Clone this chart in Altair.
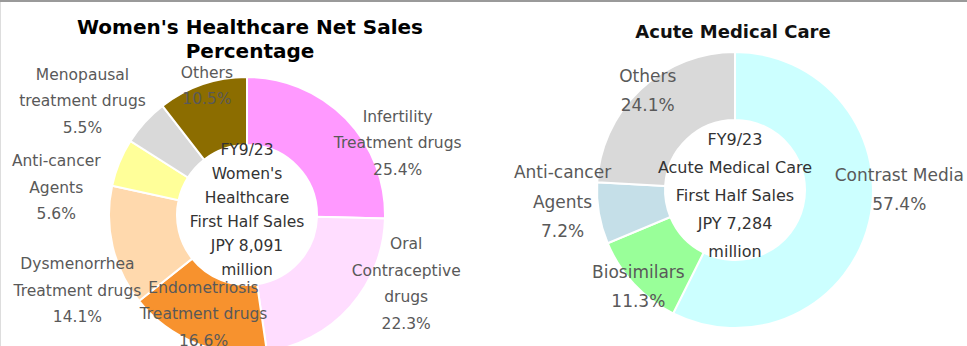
import altair as alt
import pandas as pd

# ---------------- data ----------------
wh_labels = ["Infertility\nTreatment drugs", "Oral\nContraceptive\ndrugs",
             "Endometriosis\nTreatment drugs", "Dysmenorrhea\nTreatment drugs",
             "Anti-cancer\nAgents", "Menopausal\ntreatment drugs", "Others"]
wh_values = [25.4, 22.3, 16.6, 14.1, 5.6, 5.5, 10.5]
wh_center = ["FY9/23", "Women's", "Healthcare", "First Half Sales", "JPY 8,091", "million"]
wh_title = ["Women's Healthcare Net Sales", "Percentage"]

amc_labels = ["Contrast Media", "Biosimilars", "Anti-cancer\nAgents", "Others"]
amc_values = [57.4, 11.3, 7.2, 24.1]
amc_center = ["FY9/23", "Acute Medical Care", "First Half Sales", "JPY 7,284", "million"]
amc_title = ["Acute Medical Care"]

# ---------------- styles ----------------
wh_colors = ["#FF99FF", "#FFDDFF", "#F7922E", "#FFD9AD", "#FFFF99", "#D9D9D9", "#8C6D00"]
amc_colors = ["#CCFFFF", "#99FF99", "#C5DFE8", "#D9D9D9"]

W, H = 967, 346
FONT = "DejaVu Sans"
LABEL_COLOR = "#595959"


def make_df(prefix, labels, values):
    return pd.DataFrame({
        "key": [f"{prefix}{i}" for i in range(len(labels))],
        "order": list(range(len(labels))),
        "value": values,
        "text": [f"{l}\n{v:.1f}%" for l, v in zip(labels, values)],
    })


wh_df = make_df("W", wh_labels, wh_values)
amc_df = make_df("A", amc_labels, amc_values)

color_scale = alt.Scale(domain=list(wh_df["key"]) + list(amc_df["key"]),
                        range=wh_colors + amc_colors)


def donut(df, cx, cy, r_in, r_out):
    return alt.Chart(df).mark_arc(innerRadius=r_in, outerRadius=r_out,
                                  stroke="white", strokeWidth=2).encode(
        theta=alt.Theta("value:Q", stack=True),
        order=alt.Order("order:Q"),
        color=alt.Color("key:N", scale=color_scale, legend=None),
        x=alt.value(cx), y=alt.value(cy),
    )


def labels(df, cx, cy, placement, size, lh):
    layers = []
    for i, (r, dx, dy) in enumerate(placement):
        n = df["text"][i].count("\n") + 1
        layers.append(
            alt.Chart(df).transform_calculate(
                t=f"datum.order == {i} ? datum.text : ''"
            ).mark_text(radius=r, dx=dx, dy=dy - (n - 1) * lh / 2, font=FONT, fontSize=size,
                        color=LABEL_COLOR, lineBreak="\n", lineHeight=lh,
                        align="center", baseline="middle").encode(
                theta=alt.Theta("value:Q", stack=True),
                order=alt.Order("order:Q"),
                text="t:N",
                x=alt.value(cx), y=alt.value(cy),
            )
        )
    return layers


def block_text(lines, x, y_first, size, lh, color, weight="normal"):
    return alt.Chart(pd.DataFrame({"t": ["\n".join(lines)]})).mark_text(
        font=FONT, fontSize=size, fontWeight=weight, color=color,
        lineBreak="\n", lineHeight=lh, align="center", baseline="middle"
    ).encode(text="t:N", x=alt.value(x), y=alt.value(y_first))


# centers / layout
LCX, LCY = 247, 215
RCX, RCY = 735, 190

wh_place = [(170, 29, 47), (170, 32, -44), (110, -3, -3), (170, -4, 37),
            (190, -15, 45), (190, -24, 14), (133, 3, -3)]
amc_place = [(175, -6, -40), (150, 13, -5), (175, 0, -17), (130, 2, -4)]

top_line = alt.Chart(pd.DataFrame({"a": [0]})).mark_rule(
    color="#9A9A9A", strokeWidth=2).encode(x=alt.value(0), x2=alt.value(W), y=alt.value(1))

layers = [
    top_line,
    donut(wh_df, LCX, LCY, 70, 138),
    donut(amc_df, RCX, RCY, 70, 138),
    block_text(wh_center, LCX, 150, 15.5, 24, "#333333"),
    block_text(amc_center, RCX, 140, 16, 28, "#333333"),
    block_text(wh_title, 250, 28, 20, 24, "#000000", "bold"),
    block_text(amc_title, 733, 33, 18, 22, "#111111", "bold"),
] + labels(wh_df, LCX, LCY, wh_place, 15.5, 26.5) + labels(amc_df, RCX, RCY, amc_place, 17, 29.5)

chart = alt.layer(*layers).properties(
    width=W, height=H, autosize=alt.AutoSizeParams(type="none"), padding=0
).configure_view(stroke=None).configure(background="white")

chart.save("out.html", embed_options={"renderer": "svg", "actions": False})
